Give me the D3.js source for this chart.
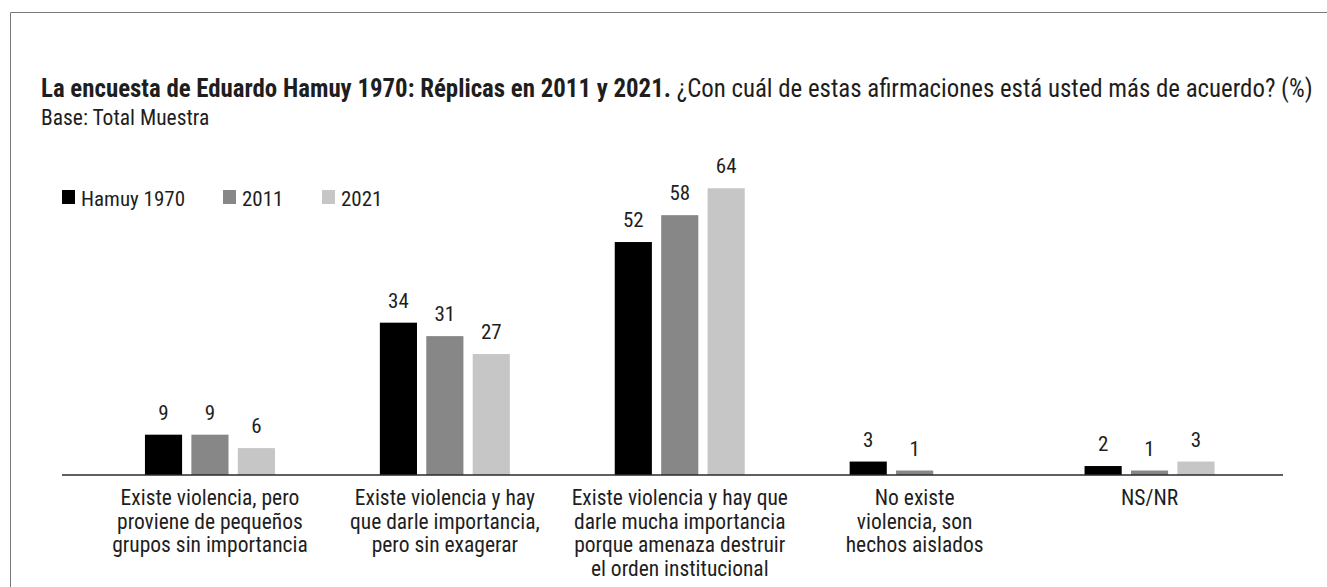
<!DOCTYPE html>
<html>
<head>
<meta charset="utf-8">
<script src="https://cdn.jsdelivr.net/npm/d3@7"></script>
<style>
  html, body { margin: 0; padding: 0; background: #fff; }
  svg { display: block; }
  text { font-family: "Roboto Condensed", "Liberation Sans Narrow", "Arial Narrow", "DejaVu Sans Condensed", sans-serif; fill: #1e1e1e; }
</style>
</head>
<body>
<svg id="chart" width="1327" height="587"></svg>
<script>
// Survey answers (categories) and the three survey waves
const categories = [
  "Existe violencia, pero\nproviene de pequeños\ngrupos sin importancia",
  "Existe violencia y hay\nque darle importancia,\npero sin exagerar",
  "Existe violencia y hay que\ndarle mucha importancia\nporque amenaza destruir\nel orden institucional",
  "No existe\nviolencia, son\nhechos aislados",
  "NS/NR"
];
const series = ["Hamuy 1970", "2011", "2021"];
const values1970 = [9, 34, 52, 3, 2];
const values2011 = [9, 31, 58, 1, 1];
const values2021 = [6, 27, 64, null, 3];
const colors = ["#000000", "#878787", "#c6c6c6"];

const titleBold = "La encuesta de Eduardo Hamuy 1970: Réplicas en 2011 y 2021.";
const titleRest = " ¿Con cuál de estas afirmaciones está usted más de acuerdo? (%)";
const subtitle = "Base: Total Muestra";

const W = 1327, H = 587;
const svg = d3.select("#chart");

// frame (top and left edges)
svg.append("line").attr("x1", 10.5).attr("x2", W).attr("y1", 12.5).attr("y2", 12.5)
  .attr("stroke", "#7a7a7a").attr("stroke-width", 1);
svg.append("line").attr("x1", 10.5).attr("x2", 10.5).attr("y1", 12.5).attr("y2", H)
  .attr("stroke", "#7a7a7a").attr("stroke-width", 1);

// title: bold lead-in followed by the question, sized to span the frame
const title = svg.append("text").attr("x", 41).attr("y", 97).style("font-size", "21px");
title.append("tspan").style("font-weight", "bold").text(titleBold);
title.append("tspan").text(titleRest);
const targetW = 1272;
const tw = title.node().getComputedTextLength();
if (tw > 0) title.style("font-size", (21 * targetW / tw).toFixed(2) + "px");

svg.append("text").attr("x", 41).attr("y", 125).style("font-size", "21.5px").text(subtitle);

// scales
const baseY = 475;
const y = d3.scaleLinear().domain([0, 70]).range([baseY, baseY - 70 * 4.48]);
const x0 = d3.scaleBand().domain(categories).range([92.5, 1267]);
const x1 = d3.scaleBand().domain(series).range([-65, 65]).paddingInner(0.2);

const table = categories.map((c, i) => ({
  cat: c,
  vals: [values1970[i], values2011[i], values2021[i]]
}));

const groups = svg.append("g").selectAll("g").data(table).join("g")
  .attr("transform", d => `translate(${x0(d.cat) + x0.bandwidth() / 2},0)`);

const bars = groups.selectAll("g.bar")
  .data(d => d.vals.map((v, j) => ({ s: series[j], v, j })).filter(e => e.v != null))
  .join("g").attr("class", "bar");

bars.append("rect")
  .attr("x", d => x1(d.s))
  .attr("width", x1.bandwidth())
  .attr("y", d => y(d.v))
  .attr("height", d => baseY - y(d.v))
  .attr("fill", d => colors[d.j]);

bars.append("text")
  .attr("x", d => x1(d.s) + x1.bandwidth() / 2)
  .attr("y", d => y(d.v) - 15)
  .attr("text-anchor", "middle")
  .style("font-size", "21px")
  .text(d => d.v);

// baseline
svg.append("line").attr("x1", 62).attr("x2", 1283).attr("y1", baseY).attr("y2", baseY)
  .attr("stroke", "#2a2a2a").attr("stroke-width", 1.6);

// category labels
const labels = svg.append("g").selectAll("text").data(categories).join("text")
  .attr("x", d => x0(d) + x0.bandwidth() / 2)
  .attr("y", 505)
  .attr("text-anchor", "middle")
  .style("font-size", "21.5px");
labels.selectAll("tspan").data(d => d.split("\n")).join("tspan")
  .attr("x", function () { return d3.select(this.parentNode).attr("x"); })
  .attr("dy", (d, i) => i === 0 ? 0 : 23.5)
  .text(d => d);

// legend
const legendX = [62, 223, 322];
const legend = svg.append("g").selectAll("g").data(series).join("g")
  .attr("transform", (d, i) => `translate(${legendX[i]},190)`);
legend.append("rect").attr("width", 13).attr("height", 14).attr("fill", (d, i) => colors[i]);
legend.append("text").attr("x", 19).attr("y", 15.5).style("font-size", "21px").text(d => d);
</script>
</body>
</html>
